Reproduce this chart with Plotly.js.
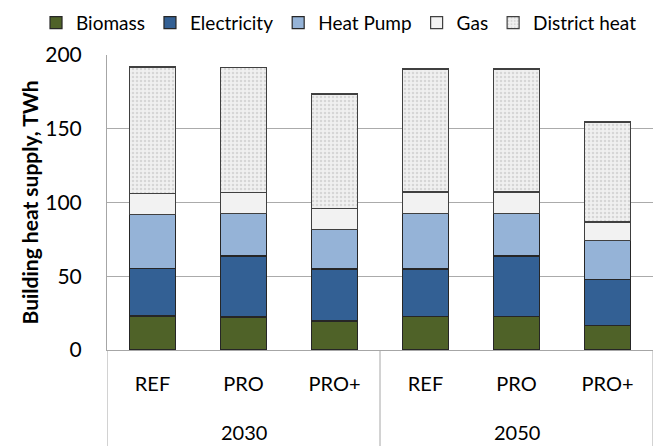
<!DOCTYPE html>
<html>
<head>
<meta charset="utf-8">
<script src="https://cdn.plot.ly/plotly-3.0.1.min.js"></script>
<style>html,body{margin:0;padding:0;background:#fff;}#chart{width:657px;height:446px;}</style>
</head>
<body>
<div id="chart"></div>
<script>
const years = ["2030","2030","2030","2050","2050","2050"];
const scenarios = ["REF","PRO","PRO+","REF","PRO","PRO+"];
const biomass = [23, 22.4, 19.7, 22.8, 22.8, 16.5];
const electricity = [32.4, 41.3, 35.2, 32.1, 40.9, 31.2];
const heatPump = [36.3, 28.7, 26.9, 37.5, 28.7, 26.7];
const gas = [14.5, 14.3, 14.0, 14.7, 14.7, 12.4];
const districtHeat = [85.7, 84.8, 77.7, 83.4, 83.4, 67.8];

const seriesNames = ["Biomass","Electricity","Heat Pump","Gas","District heat"];
const seriesData = [biomass, electricity, heatPump, gas, districtHeat];
const colors = ["#4F6228","#336094","#95B3D7","#F2F2F2","#EDEDED"];

const FONT = "Lato, Noto Sans, sans-serif";
const xKeys = years.map((y,i)=>y+" "+scenarios[i]);

const traces = seriesNames.map((n,i)=>{
  const t = {
    type:"bar", name:n, x:xKeys, y:seriesData[i],
    marker:{color:colors[i], line:{color:"#262626", width:1.2}},
    hoverinfo:"skip"
  };
  if(n==="District heat"){
    t.marker.pattern = {shape:".", bgcolor:"#F0F0F0", fgcolor:"#D6D6D6", size:4, solidity:0.3, fillmode:"replace"};
    t.marker.line.color = "#404040";
  }
  if(n==="Gas") t.marker.line.color = "#404040";
  return t;
});

const groups = [...new Set(years)];
const annotations = groups.map(g=>{
  const idx = years.map((y,i)=>y===g?i:-1).filter(i=>i>=0);
  const mid = (idx[0]+idx[idx.length-1])/2;
  return {x:mid, xref:"x", y:-0.278, yref:"paper", text:g, showarrow:false,
          font:{size:20, family:FONT, color:"#000"}, yanchor:"middle", xanchor:"center"};
});
const bounds = [-0.5];
groups.forEach(g=>{ bounds.push(years.lastIndexOf(g)+0.5); });
const shapes = bounds.map(b=>({type:"line", xref:"x", yref:"paper", x0:b, x1:b, y0:0, y1:-0.33,
  line:{color:"#A6A6A6", width:1}}));

const layout = {
  width:657, height:446,
  margin:{l:107, r:4, t:55, b:96},
  barmode:"stack", bargap:0.5,
  paper_bgcolor:"#fff", plot_bgcolor:"#fff",
  font:{family:FONT, size:18, color:"#000"},
  showlegend:true,
  legend:{orientation:"h", x:-0.13, xanchor:"left", y:1.045, yanchor:"bottom",
          font:{size:19, family:FONT}, traceorder:"normal", itemwidth:30, tracegroupgap:0},
  xaxis:{type:"category", tickvals:xKeys, ticktext:scenarios, range:[-0.5,5.5],
         showline:true, linecolor:"#A6A6A6", linewidth:1,
         tickfont:{size:20, family:FONT}, ticks:"outside", ticklen:16, tickcolor:"rgba(0,0,0,0)", showgrid:false},
  yaxis:{range:[0,200], tickvals:[0,50,100,150,200], showgrid:true, gridcolor:"#ABABAB", gridwidth:1,
         showline:true, linecolor:"#A6A6A6", linewidth:1, zeroline:false, ticks:"outside", ticklen:20, tickcolor:"rgba(0,0,0,0)",
         tickfont:{size:21, family:FONT},
         title:{text:"Building heat supply, TWh", font:{size:21, family:FONT, weight:700}, standoff:0}},
  annotations:annotations, shapes:shapes
};
Plotly.newPlot("chart", traces, layout, {displayModeBar:false, staticPlot:true});
</script>
</body>
</html>
